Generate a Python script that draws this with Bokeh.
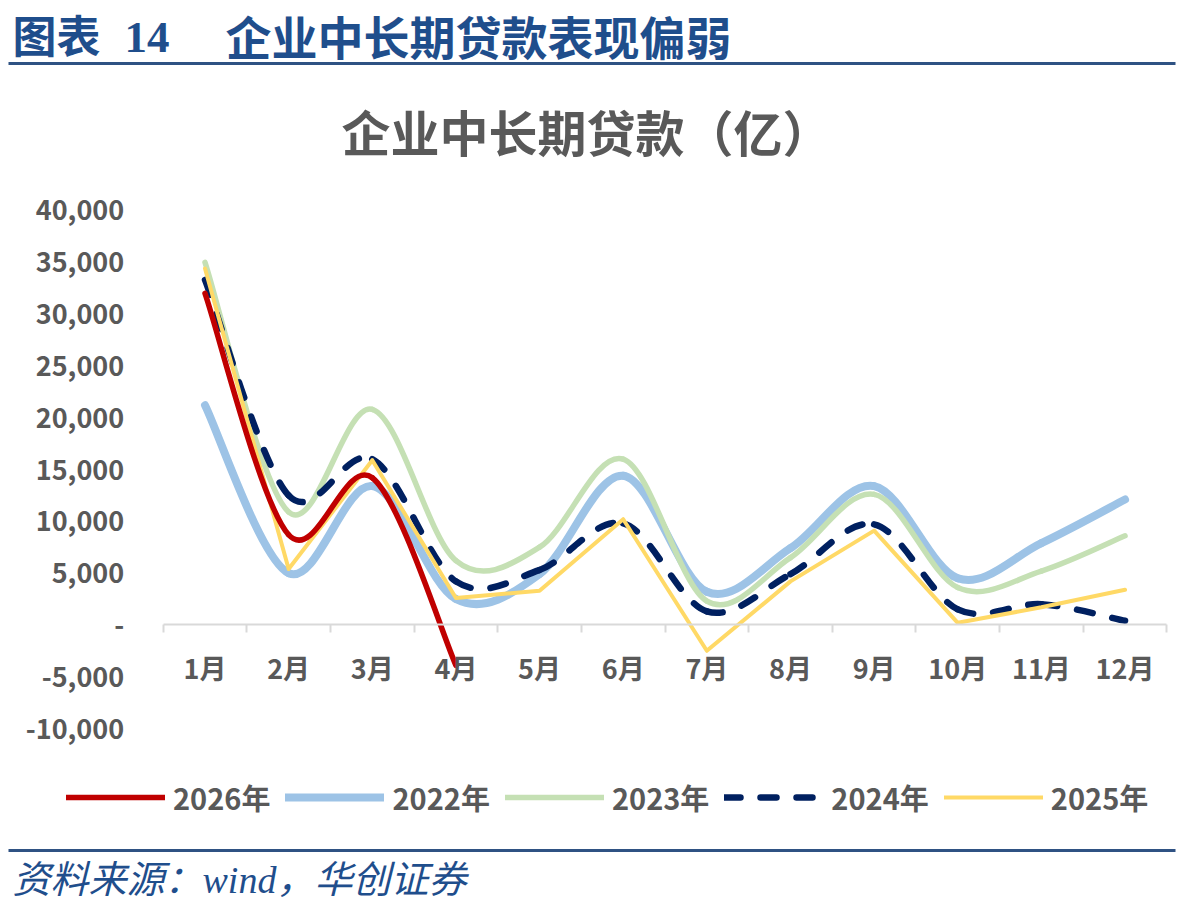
from bokeh.plotting import figure
from bokeh.models import (Range1d, LinearAxis, FixedTicker, NumeralTickFormatter,
                          Label, Legend, LegendItem, ColumnDataSource)
from bokeh.embed import file_html
from bokeh.resources import INLINE

# ---------------- data (亿元) ----------------
months = ["1月", "2月", "3月", "4月", "5月", "6月", "7月", "8月", "9月", "10月", "11月", "12月"]
y_ticks = [-10000, -5000, 0, 5000, 10000, 15000, 20000, 25000, 30000, 35000, 40000]
v2026 = [32000, 8700, 14200, -3900]
v2022 = [21200, 5000, 13400, 2500, 4900, 14400, 3200, 7400, 13400, 4500, 7900, 12100]
v2023 = [35000, 10900, 20800, 6200, 7500, 16000, 2300, 6500, 12600, 3600, 5200, 8600]
v2024 = [33300, 12500, 16000, 4200, 5300, 9800, 1300, 4900, 9700, 1500, 2000, 400]
v2025 = [34400, 5400, 15900, 2600, 3300, 10200, -2500, 4200, 9100, 200, 1700, 3400]

W, H = 1181, 902
GRAY = "#595959"
BLUE_DARK = "#1f4e8c"
CJK = "Noto Sans CJK SC"
SERIF_CJK = "'Liberation Serif', 'Noto Sans CJK SC'"

p = figure(width=W, height=H, output_backend="svg", toolbar_location=None,
           x_range=Range1d(-1.4450, 12.6750), y_range=Range1d(-26795, 60270),
           x_axis_type=None, y_axis_type=None, min_border=0,
           outline_line_color=None, background_fill_color="white",
           border_fill_color="white")
p.grid.visible = False
p.extra_x_ranges = {"px": Range1d(0, W)}
p.extra_y_ranges = {"px": Range1d(H, 0)}

xs = list(range(1, len(months) + 1))


def smooth(xv, yv):
    n = len(yv)
    d = dict(x0=[], y0=[], x1=[], y1=[], cx0=[], cy0=[], cx1=[], cy1=[])
    for i in range(n - 1):
        a = max(i - 1, 0)
        b = min(i + 2, n - 1)
        d["x0"].append(xv[i]); d["y0"].append(yv[i])
        d["x1"].append(xv[i + 1]); d["y1"].append(yv[i + 1])
        d["cx0"].append(xv[i] + (xv[i + 1] - xv[a]) / 6)
        d["cy0"].append(yv[i] + (yv[i + 1] - yv[a]) / 6)
        d["cx1"].append(xv[i + 1] - (xv[b] - xv[i]) / 6)
        d["cy1"].append(yv[i + 1] - (yv[b] - yv[i]) / 6)
    return ColumnDataSource(d)


def curve(vals, **kw):
    return p.bezier(x0="x0", y0="y0", x1="x1", y1="y1", cx0="cx0", cy0="cy0",
                    cx1="cx1", cy1="cy1", source=smooth(xs[:len(vals)], vals),
                    line_cap="round", line_join="round", **kw)


r2022 = curve(v2022, line_color="#9DC3E6", line_width=8)
r2023 = curve(v2023, line_color="#C5E0B4", line_width=5.5)
r2024 = curve(v2024, line_color="#002060", line_width=6.5, line_dash="16 20")
r2025 = p.line(xs, v2025, line_color="#FFD966", line_width=4, line_join="round",
               line_cap="round")
r2026 = curve(v2026, line_color="#C00000", line_width=5.5)

# ---------------- axes ----------------
xaxis = LinearAxis(fixed_location=0, bounds=(0.5, 12.5),
                   ticker=FixedTicker(ticks=xs, minor_ticks=[i + 0.5 for i in range(0, 13)]),
                   major_label_overrides={i + 1: m for i, m in enumerate(months)},
                   axis_line_color="#d9d9d9", axis_line_width=2,
                   major_tick_line_color=None, major_tick_out=0, major_tick_in=0,
                   minor_tick_line_color="#d9d9d9", minor_tick_line_width=2,
                   minor_tick_out=8, minor_tick_in=0,
                   major_label_standoff=15,
                   major_label_text_font=CJK, major_label_text_font_style="bold",
                   major_label_text_font_size="27px", major_label_text_color=GRAY)
p.add_layout(xaxis, "below")

yaxis = LinearAxis(fixed_location=0.5, ticker=FixedTicker(ticks=y_ticks),
                   formatter=NumeralTickFormatter(format="0,0"),
                   major_label_overrides={0: "-"},
                   axis_line_color=None, major_tick_line_color=None,
                   minor_tick_line_color=None, major_tick_out=0, major_tick_in=0,
                   major_label_standoff=39,
                   major_label_text_font=CJK, major_label_text_font_style="bold",
                   major_label_text_font_size="27px", major_label_text_color=GRAY)
p.add_layout(yaxis, "left")

# ---------------- legend ----------------
legend = Legend(items=[LegendItem(label="2026年", renderers=[r2026]),
                       LegendItem(label="2022年", renderers=[r2022]),
                       LegendItem(label="2023年", renderers=[r2023]),
                       LegendItem(label="2024年", renderers=[r2024]),
                       LegendItem(label="2025年", renderers=[r2025])],
                orientation="horizontal", location=(66, 84),
                glyph_width=99, glyph_height=30, label_height=30,
                label_width=94, label_standoff=8, spacing=15,
                padding=0, margin=0, border_line_color=None,
                background_fill_alpha=0,
                label_text_font=CJK, label_text_font_style="bold",
                label_text_font_size="29px", label_text_color=GRAY,
                label_text_baseline="middle")
p.add_layout(legend, "center")

# ---------------- page decorations ----------------
p.segment(x0=[8, 8], y0=[63, 850], x1=[1175, 1175], y1=[63, 850],
          x_range_name="px", y_range_name="px", line_color="#2f5283", line_width=3)

p.add_layout(Label(x=12, y=1, text="图表", x_range_name="px", y_range_name="px",
                   text_baseline="top", text_font=CJK,
                   text_font_style="bold", text_font_size="44px", text_color=BLUE_DARK))
p.add_layout(Label(x=124, y=37, text="14", x_range_name="px", y_range_name="px",
                   text_baseline="alphabetic", text_font=SERIF_CJK,
                   text_font_style="bold", text_font_size="45px", text_color=BLUE_DARK))
p.add_layout(Label(x=225, y=1, text="企业中长期贷款表现偏弱", x_range_name="px",
                   y_range_name="px", text_baseline="top", text_font=CJK,
                   text_font_style="bold", text_font_size="46px", text_color=BLUE_DARK))
p.add_layout(Label(x=586, y=130, text="企业中长期贷款（亿）", x_range_name="px",
                   y_range_name="px", text_align="center", text_baseline="middle",
                   text_font=CJK, text_font_style="bold", text_font_size="49px",
                   text_color=GRAY))
p.add_layout(Label(x=12, y=879, text="资料来源：wind，华创证券", x_range_name="px",
                   y_range_name="px", text_baseline="middle",
                   text_font=SERIF_CJK,
                   text_font_style="italic", text_font_size="38px", text_color=BLUE_DARK))

open("out.html", "w").write(file_html(p, INLINE))
